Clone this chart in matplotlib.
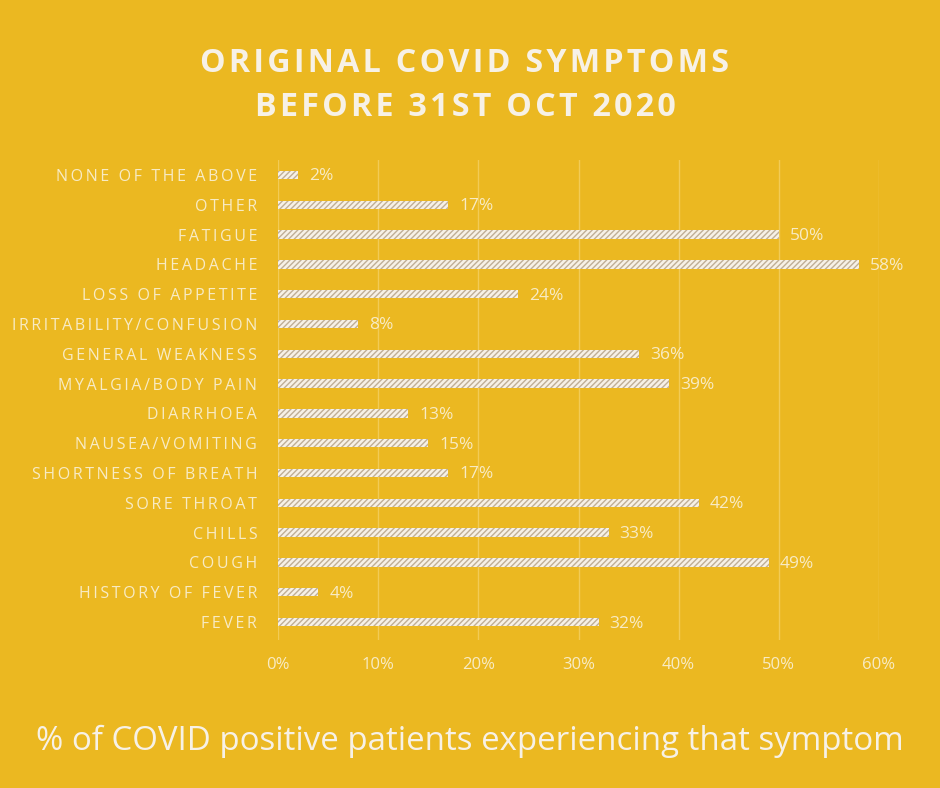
import matplotlib
matplotlib.use("Agg")
import matplotlib.pyplot as plt

symptoms = ["FEVER", "HISTORY OF FEVER", "COUGH", "CHILLS", "SORE THROAT",
            "SHORTNESS OF BREATH", "NAUSEA/VOMITING", "DIARRHOEA",
            "MYALGIA/BODY PAIN", "GENERAL WEAKNESS", "IRRITABILITY/CONFUSION",
            "LOSS OF APPETITE", "HEADACHE", "FATIGUE", "OTHER", "NONE OF THE ABOVE"]
percent = [32, 4, 49, 33, 42, 17, 15, 13, 39, 36, 8, 24, 58, 50, 17, 2]
xticks = [0, 10, 20, 30, 40, 50, 60]
xtick_labels = ["0%", "10%", "20%", "30%", "40%", "50%", "60%"]
title_lines = ["ORIGINAL COVID SYMPTOMS", "BEFORE 31ST OCT 2020"]
caption = "% of COVID positive patients experiencing that symptom"

BG = "#EBB821"
CREAM = "#F8EBC4"
WHITE = "#F7F1E6"
GRID = "#F2CB55"
FAM = ["Open Sans", "DejaVu Sans"]

def spaced(s, sp="\u2009"):
    return sp.join(list(s))

plt.rcParams["hatch.linewidth"] = 1.0
fig = plt.figure(figsize=(9.4, 7.88), dpi=100, facecolor=BG)
ax = fig.add_axes([278/940, 1-640/788, 601/940, 480/788])
ax.set_facecolor(BG)

y = list(range(len(symptoms)))
ax.barh(y, percent, height=0.28, color=WHITE, edgecolor="#BFAE96",
        linewidth=0, hatch="//////", zorder=3)
for yi, v in zip(y, percent):
    ax.annotate(f"{v}%", (v, yi), xytext=(8, -1), textcoords="offset points",
                va="center", ha="left", color=CREAM, fontsize=12.5,
                family=FAM, zorder=4)

ax.set_xlim(0, 60)
ax.set_ylim(-0.6, 15.5)
ax.set_xticks(xticks)
ax.set_xticklabels(xtick_labels, color=CREAM, fontsize=12, family=FAM)
ax.set_yticks(y)
ax.set_yticklabels([spaced(s) for s in symptoms], color=CREAM, fontsize=11.5,
                   family=FAM)
ax.tick_params(axis="x", length=0, pad=12)
ax.tick_params(axis="y", length=0, pad=15)
ax.grid(axis="x", color=GRID, linewidth=1.0, zorder=0)
for sp in ax.spines.values():
    sp.set_visible(False)

fig.text(465/940, 1-63/788, spaced(title_lines[0], "\u200a"), ha="center", va="center",
         color=WHITE, fontsize=23.2, fontweight="bold", family=FAM)
fig.text(465/940, 1-107/788, spaced(title_lines[1], "\u200a"), ha="center", va="center",
         color=WHITE, fontsize=23.2, fontweight="bold", family=FAM)
fig.text(470/940, 1-741/788, caption, ha="center", va="center",
         color=WHITE, fontsize=23.8, family=FAM)

fig.savefig("out.png", dpi=100, facecolor=BG)
